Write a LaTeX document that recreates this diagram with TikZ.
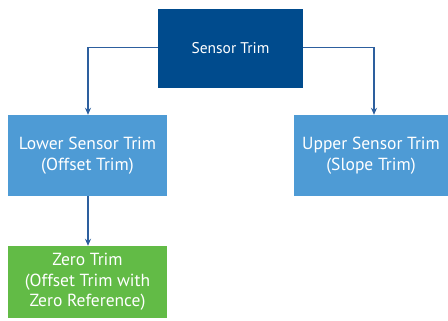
\documentclass[tikz,border=0pt]{standalone}
\usepackage{fontspec}
\setmainfont{PT Sans}
\usetikzlibrary{arrows.meta}
\definecolor{darkblue}{HTML}{004B8D}
\definecolor{lightblue}{HTML}{4E9BD5}
\definecolor{trimgreen}{HTML}{62BB46}
\definecolor{linecol}{HTML}{2D5F9E}
\tikzset{
  box/.style={fill=#1, draw=none, text=white, align=center, inner sep=0pt,
    font=\fontsize{17.5}{20.5}\selectfont},
  conn/.style={draw=linecol, line width=1.3pt, -{Stealth[length=7pt,width=6pt]}}
}
\begin{document}
\begin{tikzpicture}[x=1pt,y=-1pt]
\useasboundingbox (0,0) rectangle (448,321);
\node[box=darkblue, minimum width=145pt, minimum height=79pt, font=\fontsize{15.5}{18}\selectfont] (top) at (230.5,48.5) {Sensor Trim};
\node[box=lightblue, minimum width=159pt, minimum height=81pt] (lower) at (87.5,155.5) {Lower Sensor Trim\\(Offset Trim)};
\node[box=lightblue, minimum width=154pt, minimum height=81pt] (upper) at (371,155.5) {Upper Sensor Trim\\(Slope Trim)};
\node[box=trimgreen, minimum width=159pt, minimum height=72pt] (zero) at (87.5,282) {Zero Trim\\(Offset Trim with\\Zero Reference)};
\coordinate (lc) at (88,47.5);
\coordinate (rc) at (374,47.5);
\draw[conn] (top.west |- lc) -- (lc) -- (lc |- lower.north);
\draw[conn] (top.east |- rc) -- (rc) -- (rc |- upper.north);
\draw[conn] (lower.south -| lc) -- (zero.north -| lc);
\end{tikzpicture}
\end{document}
